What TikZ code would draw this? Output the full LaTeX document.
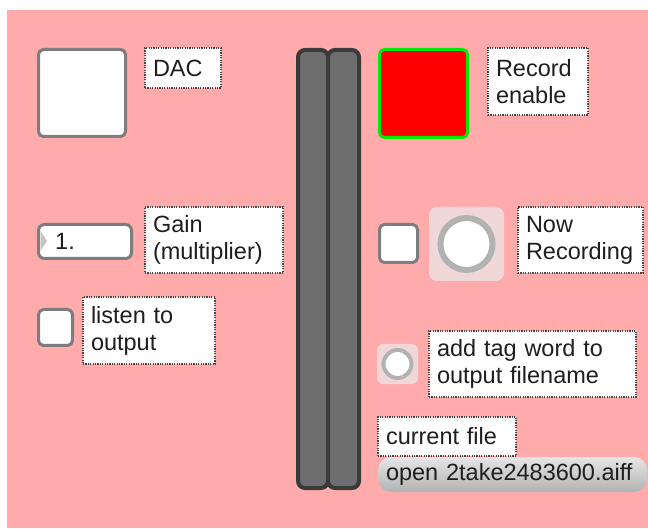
\documentclass[tikz,border=0pt]{standalone}
\usepackage{fontspec}
\setmainfont{Liberation Sans}
\usepackage{tikz}
\usetikzlibrary{shapes,calc,positioning}
\definecolor{rosaFondo}{RGB}{255,171,171}
\definecolor{rosaClaro}{RGB}{240,216,216}
\definecolor{grisBorde}{RGB}{125,125,125}
\definecolor{grisMedidor}{RGB}{110,110,110}
\definecolor{grisOscuro}{RGB}{58,58,58}
\definecolor{grisAnillo}{RGB}{178,178,178}
\definecolor{grisTri}{RGB}{196,196,196}
\definecolor{grisPunto}{RGB}{70,70,70}
\definecolor{verdeBorde}{RGB}{0,235,0}
\definecolor{texto}{RGB}{30,30,30}
\tikzstyle{comment}=[draw=grisPunto, line width=1.2pt,
                    dash pattern=on 1.2pt off 1.2pt, fill=white,
                    anchor=north west, outer sep=0pt, inner xsep=8pt,
                    inner ysep=0pt, align=left, text=texto,
                    font=\fontsize{23.5}{27}\selectfont]
\tikzstyle{toggle}=[draw=grisBorde, line width=3pt, rounded corners=5pt,
                    fill=white, anchor=north west, outer sep=0pt,
                    inner sep=0pt]
\tikzstyle{meter}=[draw=grisOscuro, line width=4pt, rounded corners=7pt,
                    fill=grisMedidor, anchor=north west, outer sep=0pt,
                    inner sep=0pt]
\tikzstyle{ledbg}=[fill=rosaClaro, rounded corners=8pt, anchor=north west,
                    outer sep=0pt, inner sep=0pt]
\tikzstyle{led}=[circle, draw=grisAnillo, fill=white, inner sep=0pt]
\tikzstyle{msgbox}=[rounded corners=13pt, top color=gray!20,
                    bottom color=gray!60, anchor=north west, outer sep=0pt,
                    inner xsep=8pt, inner ysep=0pt, align=left, text=texto,
                    font=\fontsize{23.5}{27}\selectfont]

\begin{document}
\begin{tikzpicture}[x=1pt,y=-1pt]

    % fondo del parche
    \fill[white] (0,0) rectangle (648,529);
    \fill[rosaFondo] (7,10) rectangle (648,528);

    % columna izquierda
    \draw (38.5,49.5) node(dac)[toggle, minimum width=87, minimum height=87]{};
    \draw (145,48) node(cDac)[comment, text width=60, minimum height=40]{DAC};

    \draw (38.5,224.5) node(numGain)[toggle, rounded corners=6pt,
        minimum width=93, minimum height=34]{};
    \fill[grisTri] (40.5,231) -- (47,241) -- (40.5,251) -- cycle;
    \draw (55,250) node(valGain)[anchor=base west, inner sep=0pt, text=texto,
        font=\fontsize{23.5}{27}\selectfont]{1.};
    \draw (145,207) node(cGain)[comment, text width=122, minimum height=66]
        {Gain\\(multiplier)};

    \draw (38.5,309.5) node(escuchar)[toggle, minimum width=34, minimum height=36]{};
    \draw (83,297) node(cEscuchar)[comment, text width=116, minimum height=67]
        {listen to\\output};

    % medidores
    \draw (298,50) node(meterIzq)[meter, minimum width=30, minimum height=438]{};
    \draw (328,50) node(meterDer)[meter, minimum width=31, minimum height=438]{};

    % columna derecha
    \draw (379.5,49.5) node(recEnable)[toggle, draw=verdeBorde, fill=red,
        minimum width=88, minimum height=88]{};
    \draw (488,48) node(cRec)[comment, text width=84, minimum height=67]
        {Record\\enable};

    \draw (379.5,224.5) node(recToggle)[toggle, minimum width=38, minimum height=38]{};
    \draw (429,207) node(ledFondo)[ledbg, minimum width=75, minimum height=74]{};
    \draw (ledFondo.center) node(ledRec)[led, line width=6pt, minimum size=52]{};
    \draw (518,207) node(cNow)[comment, text width=109, minimum height=66]
        {Now\\Recording};

    \draw (377,344) node(tagFondo)[ledbg, rounded corners=6pt,
        minimum width=41, minimum height=40]{};
    \draw (tagFondo.center) node(ledTag)[led, line width=4pt, minimum size=28]{};
    \draw (429,331) node(cTag)[comment, text width=191, minimum height=66]
        {add tag word to\\output filename};

    \draw (378,417) node(cFile)[comment, text width=122, minimum height=39]
        {current file};
    \draw (378,457) node(archivo)[msgbox, text width=253, minimum height=35]
        {open 2take2483600.aiff};

\end{tikzpicture}
\end{document}
